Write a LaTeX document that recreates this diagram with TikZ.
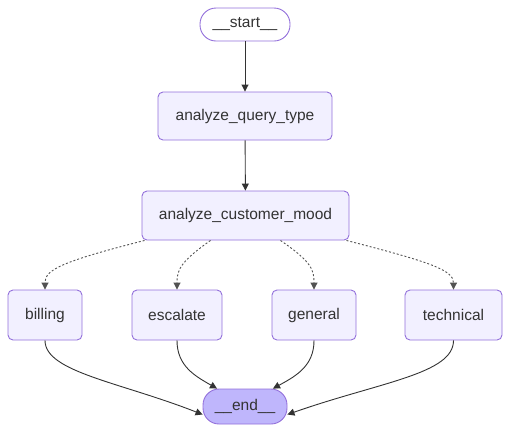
\documentclass[tikz,border=0pt]{standalone}
\usepackage{fontspec}
\setmainfont{Liberation Sans}
\usetikzlibrary{arrows.meta}
\definecolor{nodefill}{HTML}{F2F0FF}
\definecolor{nodestroke}{HTML}{9370DB}
\definecolor{endfill}{HTML}{BFB6FC}
\definecolor{edgecol}{HTML}{333333}
\begin{document}
\begin{tikzpicture}[x=1pt,y=-1pt,
  box/.style={draw=nodestroke, fill=nodefill, line width=0.9pt, rounded corners=5pt,
    inner sep=0pt, text=edgecol, font=\fontsize{15.5}{18}\selectfont},
  pill/.style={box, rounded corners=16pt},
  edge/.style={draw=edgecol, line width=0.9pt, -{Triangle[length=7pt,width=7pt]}},
  dedge/.style={edge, dash pattern=on 2pt off 2pt, draw=edgecol!85}
]
\useasboundingbox (0,0) rectangle (510,432);
\node[pill, fill=white, minimum width=90pt, minimum height=33pt] (start) at (245,24.5) {\_\_start\_\_};
\node[box, minimum width=174pt, minimum height=48pt] (aqt) at (245,116) {analyze\_query\_type};
\node[box, minimum width=207pt, minimum height=49pt] (acm) at (245.5,215.5) {analyze\_customer\_mood};
\node[box, minimum width=74pt, minimum height=50pt] (bil) at (45,315) {billing};
\node[box, minimum width=90pt, minimum height=50pt] (esc) at (177,315) {escalate};
\node[box, minimum width=84pt, minimum height=50pt] (gen) at (314,315) {general};
\node[box, minimum width=97pt, minimum height=50pt] (tec) at (453.5,315) {technical};
\node[pill, fill=endfill, minimum width=84pt, minimum height=35pt] (end) at (245,406.5) {\_\_end\_\_};

\draw[edge] (start) -- (aqt);
\draw[edge] (aqt) -- (acm);

\draw[dedge] ([xshift=3pt]acm.south west) .. controls (60,262) and (45,270) .. (bil.north);
\draw[dedge] ([xshift=-35pt]acm.south) .. controls (180,262) and (177,270) .. (esc.north);
\draw[dedge] ([xshift=35pt]acm.south) .. controls (312,262) and (314,270) .. (gen.north);
\draw[dedge] ([xshift=-3pt]acm.south east) .. controls (430,262) and (453.5,270) .. (tec.north);

\draw[edge] (bil.south) .. controls (45,372) and (120,382) .. ([yshift=-8pt]end.west);
\draw[edge] (esc.south) .. controls (177,366) and (195,376) .. ([xshift=-28pt]end.north);
\draw[edge] (gen.south) .. controls (314,366) and (296,376) .. ([xshift=28pt]end.north);
\draw[edge] (tec.south) .. controls (453.5,374) and (380,382) .. ([yshift=-8pt]end.east);
\end{tikzpicture}
\end{document}
